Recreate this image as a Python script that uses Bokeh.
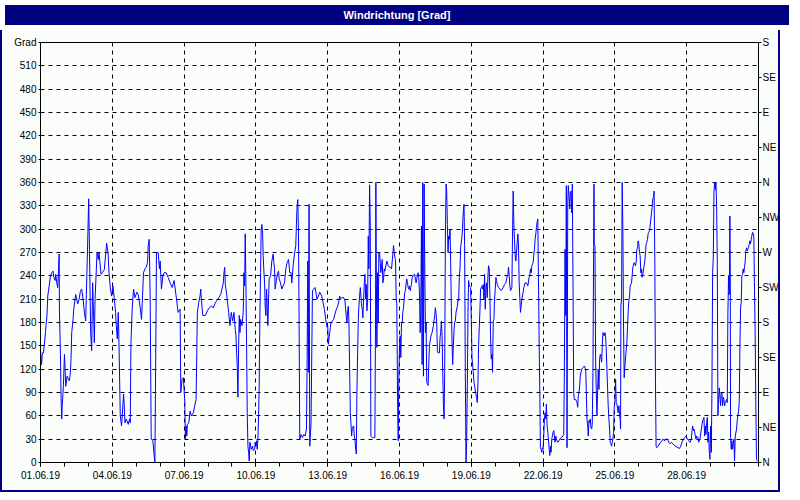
from bokeh.plotting import figure
from bokeh.models import Range1d, LinearAxis, FixedTicker, Div
from bokeh.layouts import column
from bokeh.embed import file_html
from bokeh.resources import INLINE

# Wind direction readings: (hours since 01.06.19 00:00, degrees)
days_01_06 = [
    (0, 144), (1, 126), (2, 141), (3, 141), (5, 167), (5.5, 176), (6.5, 189), (7.3, 214), (8.7, 227),
    (10, 240), (11.3, 244), (12.7, 246), (13.3, 238), (14.7, 234), (15.3, 242), (16.3, 231), (17.3, 225),
    (18, 245), (18.7, 268), (19, 195), (20, 139), (20.7, 79), (21.3, 56), (21.7, 71), (23, 99), (24, 139),
    (24.7, 120), (25.3, 98), (26.7, 111), (28, 107), (29, 105), (30, 116), (30.7, 137), (31.3, 167),
    (32.7, 184), (33.3, 197), (34.7, 210), (35.3, 216), (37.3, 204), (38.7, 210), (40, 220), (41.3, 223),
    (42.7, 210), (44, 193), (45.3, 182), (46, 216), (47.3, 282), (48.3, 339), (49, 283), (50.3, 167),
    (51.3, 144), (52.3, 231), (54, 154), (54.7, 210), (56.7, 270), (58, 261), (58.7, 270), (60.7, 242),
    (62, 244), (64, 248), (65.3, 267), (66.3, 282), (67.7, 270), (68.7, 244), (70, 225), (71.3, 214),
    (72.7, 227), (73.7, 214), (75.3, 193), (76, 176), (77, 159), (78, 193), (78.7, 154), (80, 60),
    (81.3, 47), (83.3, 88), (84, 73), (84.7, 51), (86, 56), (88, 49), (89.3, 56), (90, 51), (90.7, 154),
    (92, 199), (93.3, 223), (94.7, 212), (96.7, 219), (98, 216), (100, 199), (101.3, 184), (103.3, 244),
    (104.7, 249), (106, 251), (107.3, 257), (108, 279), (109, 287), (110, 210), (111, 30), (112.7, 28),
    (113.7, 13), (114.7, 0), (115.3, 94), (116.3, 270), (118, 270), (119.3, 249), (120, 259), (121.3, 223),
    (122.7, 240), (124, 244), (126, 244), (128, 238), (130, 231), (132, 225), (134, 234), (136, 214),
    (138, 193), (140, 197), (140.7, 90), (142, 107), (143.3, 109), (144.7, 77), (145.3, 30),
]

days_07_12 = [
    (146, 47), (146.7, 34), (147.3, 49), (148.7, 51), (150, 66), (151.3, 60), (153.3, 64), (154.7, 73),
    (156, 81), (156.7, 139), (157.3, 193), (158.7, 206), (160, 214), (160.7, 223), (161.3, 210),
    (162.7, 189), (165.3, 189), (167.3, 195), (169.3, 199), (171.3, 201), (173.3, 199), (174.7, 204),
    (176.7, 208), (178.7, 212), (180.7, 216), (182, 223), (183.3, 231), (184, 244), (184.7, 251),
    (185.3, 229), (186.7, 216), (188, 201), (188.7, 193), (189.3, 184), (190, 176), (191.3, 193),
    (192.7, 182), (194, 193), (195.3, 171), (196, 163), (196.7, 141), (197.3, 124), (198, 84),
    (198.7, 150), (199.3, 189), (200, 167), (200.7, 184), (202, 176), (203.3, 193), (204, 244),
    (204.7, 227), (205.3, 294), (206, 231), (206.7, 146), (207.3, 64), (208, 21), (208.7, 13), (209.3, 2),
    (210, 26), (211.3, 17), (212.7, 21), (213.3, 15), (214.7, 17), (215.3, 26), (216, 21), (216.7, 28),
    (217.3, 17), (218, 30), (218.7, 60), (219.3, 99), (220, 189), (220.7, 244), (221.3, 300), (222, 306),
    (222.7, 296), (223.3, 266), (224, 246), (224.7, 231), (225.3, 201), (226, 189), (226.7, 223),
    (227.3, 201), (228, 176), (228.7, 210), (229.3, 236), (230.7, 240), (232, 259), (233.3, 268),
    (234, 257), (234.7, 249), (235.3, 223), (236.7, 236), (238, 244), (238.7, 246), (239.3, 236),
    (240.7, 231), (242, 223), (243.3, 227), (244.7, 231), (246, 249), (247.3, 257), (248.7, 261),
    (250, 244), (251.3, 244), (252, 231), (253.3, 253), (254.7, 268), (256, 279), (256.7, 309),
    (257.3, 330), (258, 338), (258.7, 296), (259.3, 184), (260, 30), (261.3, 36), (262.7, 32), (264, 36),
    (265.3, 34), (266.7, 43), (267.3, 116), (268, 259), (268.7, 116), (269.3, 332), (270, 21), (271.3, 51),
    (272.7, 221), (274, 223), (275.3, 225), (277.3, 210), (278.7, 214), (280, 219), (282, 214),
    (283.3, 206), (284.7, 197), (286, 184), (287.3, 174),
]

days_13_18 = [
    (288, 176), (288.7, 152), (289.3, 159), (290, 167), (290.7, 174), (291.3, 180), (292.7, 182),
    (294, 184), (295.3, 191), (296.7, 197), (298, 201), (299.3, 208), (300, 214), (300.7, 210), (302, 212),
    (304, 212), (305.3, 208), (306, 197), (306.7, 186), (307.3, 180), (308, 195), (308.7, 201),
    (309.3, 180), (310, 120), (310.7, 64), (312, 34), (312.7, 45), (314, 47), (314.7, 34), (315.3, 30),
    (316, 17), (316.7, 11), (317.3, 90), (318, 141), (318.7, 184), (319.3, 201), (320, 214), (320.7, 225),
    (321.3, 214), (322, 201), (322.7, 197), (323.3, 186), (324, 210), (324.7, 231), (325.3, 242),
    (326, 210), (326.7, 229), (327.3, 195), (328, 206), (328.7, 291), (329.3, 249), (330, 357),
    (330.7, 304), (331.3, 34), (332.7, 32), (334, 32), (335.3, 32), (336, 195), (336.3, 360), (336.7, 253),
    (337.3, 148), (338, 244), (338.7, 180), (339.3, 270), (340, 270), (340.7, 257), (341.3, 244),
    (342, 253), (342.7, 261), (343.3, 231), (344, 236), (344.7, 249), (345.3, 246), (346, 251),
    (347.3, 259), (348.7, 253), (350, 251), (351.3, 251), (352, 249), (352.7, 259), (353.3, 268),
    (354, 279), (354.7, 270), (355.3, 264), (356, 261), (356.7, 210), (357.3, 204), (358, 90), (358.7, 28),
    (359.3, 109), (360, 150), (360.7, 163), (361.3, 135), (362, 178), (362.7, 180), (363.3, 193),
    (364, 199), (364.7, 210), (365.3, 219), (366, 221), (366.7, 231), (367.3, 236), (368, 231),
    (368.7, 225), (369.3, 223), (370, 227), (370.7, 221), (371.3, 225), (372, 229), (372.7, 238),
    (374, 241), (375.3, 242), (376, 234), (376.7, 231), (377.3, 236), (378, 242), (378.7, 244),
    (379.3, 238), (380, 219), (380.7, 167), (381.3, 193), (382, 304), (382.7, 126), (383.3, 360),
    (384, 111), (384.7, 358), (385.3, 257), (386, 167), (386.7, 180), (387.3, 103), (388, 101),
    (388.7, 99), (389.3, 124), (390, 150), (390.7, 156), (391.3, 161), (392, 165), (392.7, 167),
    (394, 176), (395.3, 189), (396, 199), (396.7, 191), (397.3, 180), (398, 144), (398.7, 141), (400, 141),
    (400.7, 161), (401.3, 167), (402, 182), (402.7, 163), (403.3, 120), (404, 77), (404.7, 56),
    (405.3, 116), (406, 287), (406.7, 358), (407.3, 351), (408, 306), (408.7, 270), (409.3, 291),
    (410, 287), (410.7, 300), (411.3, 257), (412, 201), (412.7, 154), (413.3, 126), (414, 150),
    (414.7, 171), (415.3, 180), (416, 182), (416.7, 193), (418, 201), (418.7, 210), (419.3, 208),
    (420, 238), (420.7, 251), (421.3, 276), (422.7, 291), (423.3, 304), (424, 324), (424.7, 332),
    (425.3, 279), (426, 116), (426.7, 0), (427.3, 26), (428, 99), (428.7, 193), (429.3, 234), (430, 227),
    (431.3, 225),
]

days_19_24 = [
    (432, 184), (432.7, 135), (434, 116), (434.7, 103), (435.3, 99), (436, 92), (437.3, 84), (438, 77),
    (438.7, 103), (439.3, 150), (440, 174), (440.7, 197), (441.3, 223), (442, 225), (442.7, 227),
    (443.3, 223), (444, 229), (444.7, 210), (445.3, 242), (446, 197), (446.7, 227), (447.3, 231),
    (448, 212), (448.7, 240), (449.3, 253), (450, 249), (450.7, 214), (451.3, 163), (452, 133),
    (452.7, 139), (453.3, 116), (454, 182), (454.7, 184), (455.3, 210), (456, 223), (456.7, 238),
    (457.3, 234), (458, 229), (459.3, 225), (460.7, 223), (462, 221), (464, 225), (465.3, 229),
    (466.7, 231), (467.3, 236), (468.7, 242), (469.3, 251), (470, 240), (470.7, 227), (471.3, 221),
    (472.7, 225), (473.3, 289), (474, 349), (474.7, 306), (475.3, 287), (476, 266), (476.7, 259),
    (477.3, 270), (478, 283), (478.7, 294), (479.3, 281), (480, 231), (481.3, 193), (482, 201),
    (482.7, 210), (484, 219), (484.7, 225), (486, 231), (487.3, 231), (488, 229), (488.7, 227), (490, 238),
    (490.7, 240), (491.3, 249), (492, 244), (492.7, 253), (494, 257), (494.7, 268), (495.3, 274),
    (496, 287), (496.7, 294), (497.3, 302), (498, 309), (498.7, 313), (499.3, 240), (500, 159),
    (500.7, 92), (501.3, 19), (502, 17), (502.7, 13), (503.3, 19), (504, 17), (504.7, 36), (505.3, 56),
    (506, 64), (506.7, 56), (507.3, 75), (508, 47), (508.7, 39), (509.3, 30), (510, 19), (510.7, 9),
    (511.3, 21), (512, 13), (512.7, 30), (513.3, 34), (514, 39), (514.7, 41), (515.3, 34), (516, 26),
    (516.7, 34), (517.3, 30), (518, 28), (518.7, 26), (520, 28), (520.7, 30), (522, 32), (523.3, 33),
    (524.7, 36), (525.3, 111), (526, 274), (526.7, 189), (527.3, 356), (528, 19), (528.7, 330),
    (529.3, 356), (530, 343), (530.7, 326), (531.3, 347), (532, 349), (532.7, 321), (533.3, 358),
    (534, 227), (534.7, 90), (535.3, 81), (536.7, 81), (537.3, 79), (538, 77), (538.7, 71), (539.3, 86),
    (540, 90), (540.7, 99), (541.3, 111), (542, 116), (542.7, 120), (544, 122), (545.3, 124),
    (546.7, 120), (547.3, 94), (548, 56), (548.7, 47), (549.3, 34), (550, 54), (550.7, 51), (551.3, 56),
    (552, 45), (552.7, 43), (553.3, 49), (554, 116), (554.7, 279), (555, 358), (555.3, 281), (556, 279),
    (556.7, 129), (557.3, 94), (558, 60), (559.3, 120), (560, 94), (560.7, 133), (561.3, 139), (562, 135),
    (562.7, 129), (563.3, 148), (564, 167), (565.3, 163), (566, 167), (566.7, 161), (567.3, 146),
    (568, 120), (568.7, 94), (569.3, 73), (570, 56), (570.7, 43), (571.3, 26), (572, 24), (572.7, 21),
    (573.3, 26), (574, 30), (574.7, 39), (575.3, 71),
]

days_25_30 = [
    (576, 77), (576.7, 107), (577.3, 77), (578, 75), (578.7, 69), (579.3, 64), (580, 73), (580.7, 60),
    (581.3, 56), (581.7, 43), (582, 201), (582.7, 210), (583.3, 360), (584, 296), (584.7, 171),
    (585.3, 109), (586, 124), (587.3, 144), (588, 154), (588.7, 176), (589.3, 193), (590, 208),
    (590.7, 214), (591.3, 227), (592.7, 231), (593.3, 240), (594, 251), (595.3, 257), (596, 255),
    (596.7, 253), (597.3, 257), (598, 274), (598.7, 276), (599.3, 285), (600, 281), (600.7, 270),
    (601.3, 266), (602, 244), (602.7, 249), (603.3, 238), (604, 242), (604.7, 249), (605.3, 253),
    (606, 259), (606.7, 270), (607.3, 281), (608, 283), (608.7, 287), (609.3, 294), (610, 296),
    (610.7, 298), (611.3, 304), (612, 313), (612.7, 321), (613.3, 328), (614, 339), (614.7, 341),
    (615.3, 349), (616, 264), (616.7, 101), (617.3, 21), (618, 19), (619.3, 21), (620.7, 24), (622, 26),
    (623.3, 28), (624, 30), (626, 28), (626.7, 30), (628.7, 30), (630, 26), (631.3, 24), (632.7, 26),
    (634, 24), (636.7, 21), (639.3, 19), (640.7, 18), (642, 21), (643.3, 26), (644.7, 30), (646, 32),
    (647.3, 34), (648.7, 30), (650, 28), (651.3, 26), (652.7, 30), (653.3, 41), (654, 47), (654.7, 41),
    (655.3, 43), (656.7, 34), (657.3, 30), (658, 34), (659.3, 32), (660, 26), (661.3, 30), (662.7, 43),
    (664, 54), (664.7, 56), (665.3, 58), (666, 34), (666.7, 47), (667.3, 36), (668, 51), (668.7, 58),
    (669.3, 26), (670, 39), (670.7, 13), (671.3, 4), (672, 47), (672.7, 13), (673.3, 94), (674, 244),
    (674.7, 264), (675.3, 347), (676, 360), (676.7, 351), (677.3, 360), (678, 330), (678.7, 255),
    (679.3, 60), (680, 81), (680.7, 96), (682, 73), (682.7, 90), (683.3, 90), (684, 73), (684.7, 84),
    (685.3, 81), (686, 73), (686.7, 77), (688, 81), (688.7, 77), (689.3, 191), (690, 240), (690.7, 216),
    (691.3, 317), (691.7, 240), (692, 32), (692.7, 17), (693.3, 28), (694, 17), (695.3, 30), (696, 2),
    (696.7, 34), (698, 43), (698.7, 54), (699.3, 60), (700, 66), (700.7, 79), (701.3, 141), (702, 199),
    (702.7, 206), (703.3, 240), (704, 242), (704.7, 249), (705.3, 244), (706, 251), (706.7, 259),
    (707.3, 272), (708, 276), (708.7, 272), (709.3, 274), (710, 276), (710.7, 281), (711.3, 285),
    (712, 281), (712.7, 287), (713.3, 291), (714, 296), (714.7, 294), (715.3, 291), (716, 221),
    (716.7, 159), (717.3, 77), (718, 4), (718.7, 2),
]

x_tick_hours = [0, 72, 144, 216, 288, 360, 432, 504, 576, 648]
x_tick_labels = ["01.06.19", "04.06.19", "07.06.19", "10.06.19", "13.06.19",
                 "16.06.19", "19.06.19", "22.06.19", "25.06.19", "28.06.19"]
left_ticks = list(range(0, 541, 30))
left_labels = [str(t) for t in range(0, 511, 30)] + ["Grad"]
right_ticks = list(range(0, 541, 45))
right_labels = ["N", "NE", "E", "SE", "S", "SW", "W", "NW", "N", "NE", "E", "SE", "S"]
total_hours = 720
max_deg = 540

readings = days_01_06 + days_07_12 + days_13_18 + days_19_24 + days_25_30
hours = [r[0] for r in readings]
deg = [r[1] for r in readings]

BG = "#fbfdfb"
FONT = "Liberation Sans"
NAVY = "#000080"

p = figure(width=780, height=462,
           x_range=Range1d(0, total_hours), y_range=Range1d(0, max_deg),
           output_backend="svg", toolbar_location=None,
           min_border_left=38, min_border_right=22, min_border_top=12, min_border_bottom=30,
           background_fill_color=BG, border_fill_color=BG,
           outline_line_color="black", outline_line_width=1)

p.line(hours, deg, line_color="#0000ff", line_width=1)

def style_axis(ax):
    ax.axis_line_color = "black"
    ax.major_tick_line_color = "black"
    ax.minor_tick_line_color = "black"
    ax.major_label_text_font = FONT
    ax.major_label_text_font_size = "10px"
    ax.major_label_text_color = "black"

xa = p.xaxis[0]
xa.ticker = FixedTicker(ticks=x_tick_hours, minor_ticks=list(range(0, total_hours + 1, 24)))
xa.major_label_overrides = {t: l for t, l in zip(x_tick_hours, x_tick_labels)}
style_axis(xa)
xa.major_tick_in = 0
xa.major_tick_out = 4
xa.minor_tick_in = 0
xa.minor_tick_out = 4
xa.major_label_standoff = 4

ya = p.yaxis[0]
ya.ticker = FixedTicker(ticks=left_ticks, minor_ticks=[])
ya.major_label_overrides = {t: l for t, l in zip(left_ticks, left_labels)}
style_axis(ya)
ya.major_tick_in = 0
ya.major_tick_out = 2
ya.minor_tick_out = 0
ya.major_label_standoff = 2

ra = LinearAxis(ticker=FixedTicker(ticks=right_ticks, minor_ticks=[]),
                major_label_overrides={t: l for t, l in zip(right_ticks, right_labels)})
style_axis(ra)
ra.major_tick_in = 0
ra.major_tick_out = 3
ra.minor_tick_out = 0
ra.major_label_standoff = 1
p.add_layout(ra, "right")

for g in (p.xgrid[0], p.ygrid[0]):
    g.grid_line_color = "black"
    g.grid_line_dash = "4 4"
    g.grid_line_width = 1

p.styles = {"border-left": "2px solid " + NAVY, "border-right": "2px solid " + NAVY,
            "border-bottom": "2px solid " + NAVY}

title = Div(text="Windrichtung [Grad]", width=784, height=20,
            styles={"background-color": NAVY, "color": "white", "font-family": FONT,
                    "font-weight": "bold", "font-size": "11px", "text-align": "center",
                    "line-height": "20px"})

layout = column(title, p, spacing=0)
open("out.html", "w").write(file_html(layout, INLINE))
